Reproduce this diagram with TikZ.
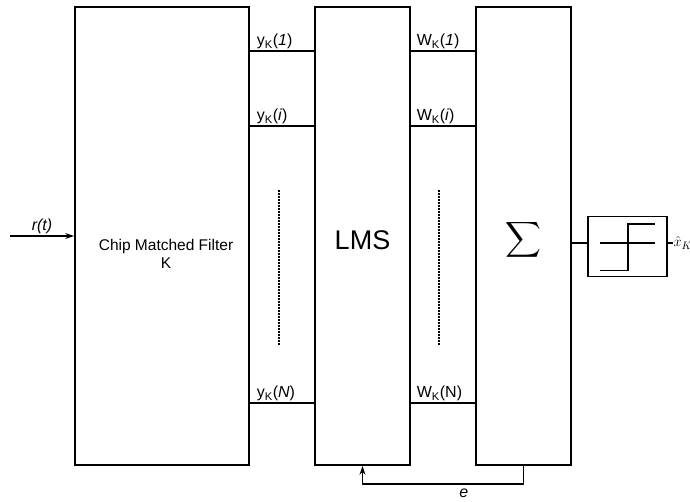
\documentclass[tikz,border=0pt]{standalone}
\usepackage{amsmath}
\usepackage{fontspec}
\setmainfont{Liberation Sans}
\usepackage{tikz}
\usetikzlibrary{positioning,arrows.meta}

\tikzset{
  blk/.style={draw, line width=1.8pt, inner sep=0pt},
  wire/.style={line width=1.8pt},
  lbl/.style={font=\fontsize{16}{18}\selectfont, inner sep=1pt},
}

\begin{document}
\begin{tikzpicture}[x=1pt, y=-1pt]
\useasboundingbox (0,0) rectangle (690,501);

\node[blk, minimum width=174pt, minimum height=458pt] (cmf) at (162,236) {};
\node[align=center, font=\fontsize{15.5}{18}\selectfont] (cmftxt) at ([xshift=4pt, yshift=-18pt]cmf.center) {Chip Matched Filter\\K};
\node[blk, minimum width=95pt, minimum height=458pt] (lms) at (362.5,236) {};
\node[font=\fontsize{27}{30}\selectfont] (lmstxt) at ([yshift=-4pt]lms.center) {LMS};
\node[blk, minimum width=95pt, minimum height=458pt] (sum) at (523.5,236) {};
\node[font=\fontsize{24}{28}\selectfont] (sumtxt) at ([yshift=-4pt]sum.center) {$\displaystyle\sum$};
\node[blk, line width=1.5pt, minimum width=79pt, minimum height=60pt] (thr) at (627.5,246.5) {};

\coordinate (in) at (10,236);
\draw[wire, -{Stealth[length=9pt, width=6pt]}] (in) -- (cmf.west) node[lbl, pos=0.5, above] {\itshape r(t)};

\foreach \yy/\lab in {51/{\textit{1}}, 126/{\textit{i}}, 403/{\textit{N}}}
  \draw[wire] (cmf.east |- 0,\yy) -- (lms.west |- 0,\yy)
    node[lbl, pos=0, anchor=south west, xshift=5pt] {y\textsubscript{K}(\lab)};

\foreach \yy/\lab in {51/{\textit{1}}, 126/{\textit{i}}, 403/{N}}
  \draw[wire] (lms.east |- 0,\yy) -- (sum.west |- 0,\yy)
    node[lbl, pos=0, anchor=south west, xshift=4pt] {W\textsubscript{K}(\lab)};

\draw[line width=2pt, densely dotted] (279,190) -- (279,345);
\draw[line width=2pt, densely dotted] (439,190) -- (439,345);

\draw[wire, -{Stealth[length=9pt, width=6pt]}] (sum.south) -- ++(0,18) -| (lms.south)
  node[lbl, pos=0.185, below, inner sep=4pt] {\itshape e};

\coordinate (thrin) at (thr.west |- 0,243);
\coordinate (throut) at (thr.east |- 0,243);
\draw[wire] (sum.east |- thrin) -- (thrin);
\draw[wire] (throut) -- ++(5,0) coordinate (out)
  node[anchor=west, inner sep=0pt, font=\fontsize{15}{17}\selectfont] {$\hat{x}_K$};

\draw[line width=1.8pt] (600,270.5) -- (628,270.5) -- (628,224) -- (655,224);
\draw[line width=1.8pt] (600,243) -- (655,243);
\end{tikzpicture}
\end{document}
